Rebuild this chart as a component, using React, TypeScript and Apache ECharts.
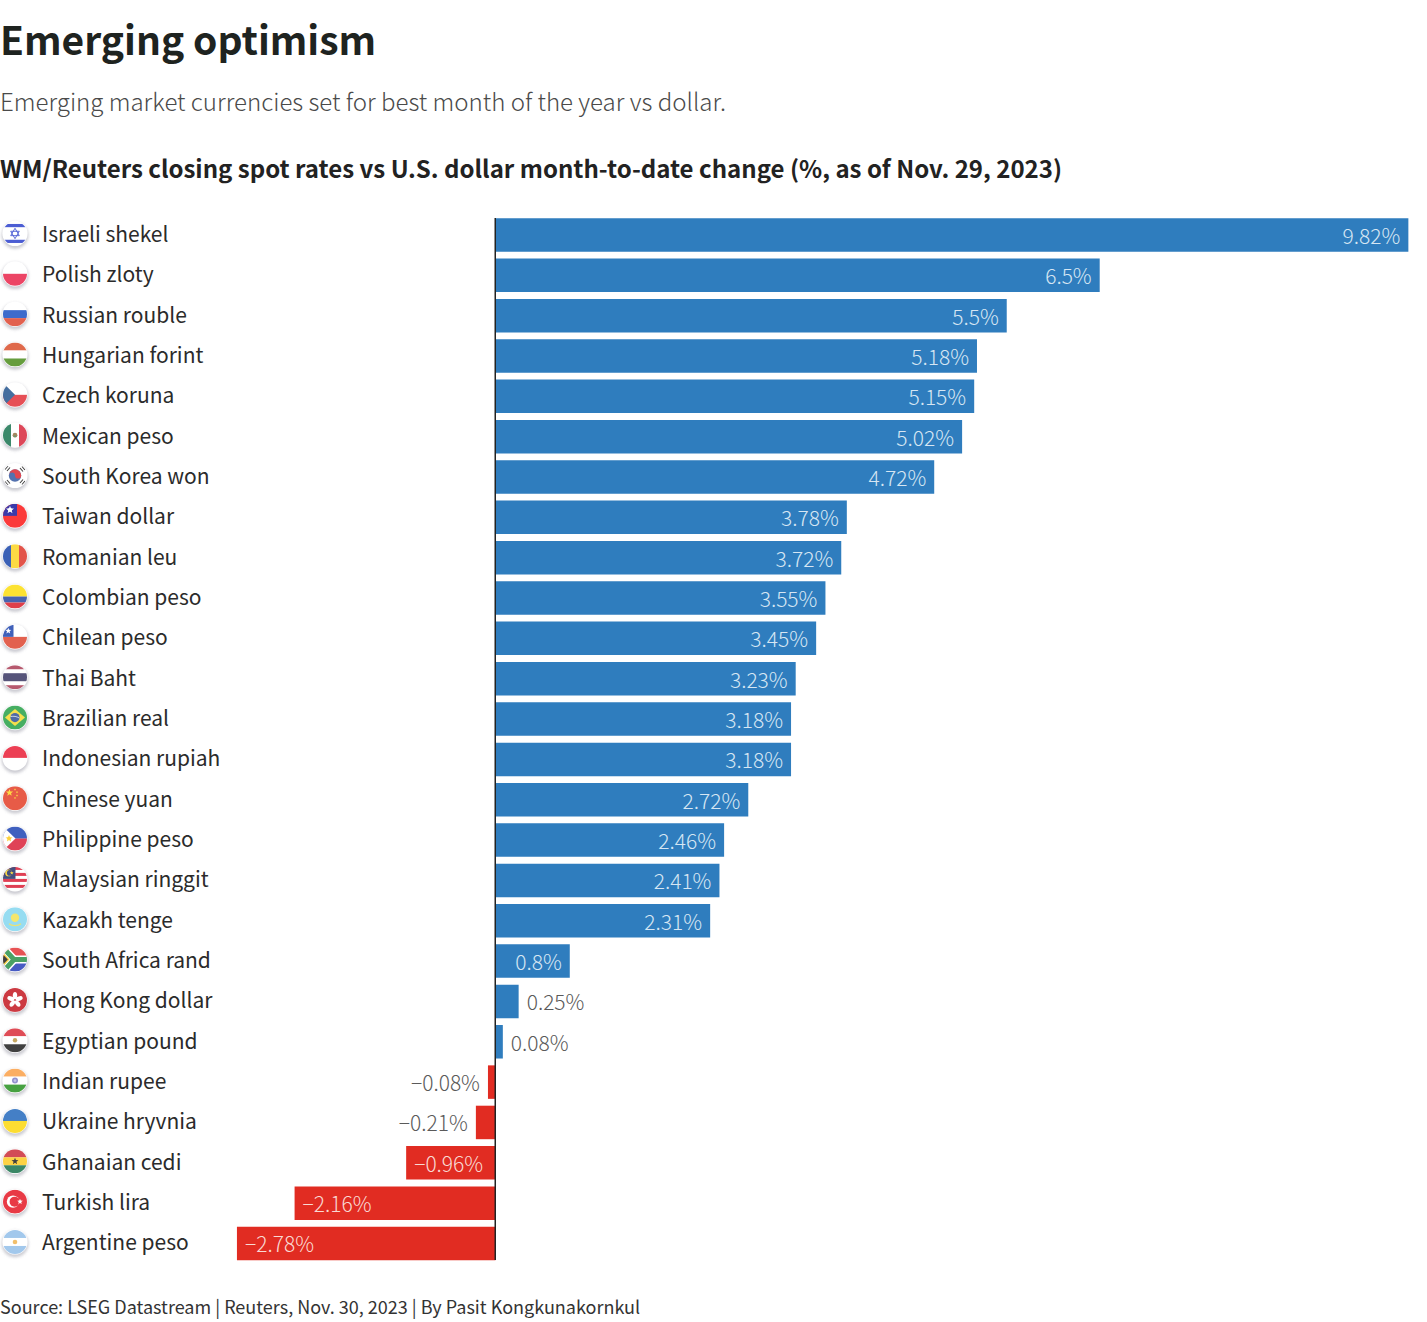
import React, { useEffect, useRef } from "react";
import * as echarts from "echarts";

const titleText = "Emerging optimism";
const subtitleText = "Emerging market currencies set for best month of the year vs dollar.";
const headingText = "WM/Reuters closing spot rates vs U.S. dollar month-to-date change (%, as of Nov. 29, 2023)";
const sourceText = "Source: LSEG Datastream | Reuters, Nov. 30, 2023 | By Pasit Kongkunakornkul";

const categories = [
  "Israeli shekel", "Polish zloty", "Russian rouble", "Hungarian forint", "Czech koruna", "Mexican peso",
  "South Korea won", "Taiwan dollar", "Romanian leu", "Colombian peso", "Chilean peso", "Thai Baht",
  "Brazilian real", "Indonesian rupiah", "Chinese yuan", "Philippine peso", "Malaysian ringgit", "Kazakh tenge",
  "South Africa rand", "Hong Kong dollar", "Egyptian pound", "Indian rupee", "Ukraine hryvnia", "Ghanaian cedi",
  "Turkish lira", "Argentine peso",
];
const values = [
  9.82, 6.5, 5.5, 5.18, 5.15, 5.02, 4.72, 3.78, 3.72, 3.55, 3.45, 3.23, 3.18, 3.18, 2.72, 2.46, 2.41, 2.31, 0.8,
  0.25, 0.08, -0.08, -0.21, -0.96, -2.16, -2.78,
];

const r = (x: number, y: number, w: number, h: number, f: string) =>
  `<rect x="${x}" y="${y}" width="${w}" height="${h}" fill="${f}"/>`;
const hStripes = (...c: string[]) => c.map((f, i) => r(0, (24 * i) / c.length, 24, 24 / c.length + 0.1, f)).join("");
const vStripes = (...c: string[]) => c.map((f, i) => r((24 * i) / c.length, 0, 24 / c.length + 0.1, 24, f)).join("");
const star = (cx: number, cy: number, s: number, f: string) => {
  const pts: string[] = [];
  for (let i = 0; i < 10; i++) {
    const a = -Math.PI / 2 + (i * Math.PI) / 5;
    const d = i % 2 ? s * 0.42 : s;
    pts.push(`${(cx + d * Math.cos(a)).toFixed(2)},${(cy + d * Math.sin(a)).toFixed(2)}`);
  }
  return `<polygon points="${pts.join(" ")}" fill="${f}"/>`;
};
const c = (x: number, y: number, rad: number, f: string) => `<circle cx="${x}" cy="${y}" r="${rad}" fill="${f}"/>`;

const flagArt: string[] = [
  // Israel
  r(0, 0, 24, 24, "#fff") + r(0, 2.5, 24, 3.2, "#1f35c9") + r(0, 18.3, 24, 3.2, "#1f35c9") +
    `<path d="M12 6.8l4.3 7.4H7.7zM12 17.2l-4.3-7.4h8.6z" fill="none" stroke="#1f35c9" stroke-width=".9"/>`,
  // Poland
  hStripes("#fff", "#e8173f"),
  // Russia
  hStripes("#fff", "#0d47c0", "#dc3a24"),
  // Hungary
  hStripes("#d8441f", "#fff", "#40850f"),
  // Czech
  hStripes("#fff", "#e0242c") + `<polygon points="0,0 12,12 0,24" fill="#174b88"/>`,
  // Mexico
  vStripes("#0b6b45", "#fff", "#d51a30") + c(12, 12, 2.4, "#8f6a3a") + c(12, 13, 1, "#3f8050"),
  // South Korea
  r(0, 0, 24, 24, "#fff") + c(12, 12, 6.2, "#2a4f9c") +
    `<path d="M5.8 12a6.2 6.2 0 0 1 12.4 0a3.1 3.1 0 0 1-6.2 0a3.1 3.1 0 0 0-6.2 0z" fill="#dc1a24"/>` +
    `<path d="M2 6l3-3.5M4 7.5l3-3.5M19 3l3 3.5M17 4.5l3 3.5M2 18l3 3.5M4 16.5l3 3.5M19 21l3-3.5M17 19.5l3-3.5" stroke="#111" stroke-width="1.1"/>`,
  // Taiwan
  r(0, 0, 24, 24, "#fb0a0a") + r(0, 0, 14, 12, "#0a0a96") + star(7, 6, 4.2, "#fff") + c(7, 6, 2, "#fff"),
  // Romania
  vStripes("#0b3aa5", "#fcd116", "#dc2a1e"),
  // Colombia
  r(0, 0, 24, 12, "#fcdc00") + r(0, 12, 24, 6, "#1a3d9c") + r(0, 18, 24, 6, "#d8101e"),
  // Chile
  hStripes("#fff", "#dc3a24") + r(0, 0, 10.5, 12, "#1039a8") + star(5.3, 6, 3.2, "#fff"),
  // Thailand
  r(0, 0, 24, 24, "#fff") + r(0, 0, 24, 4, "#a5304a") + r(0, 20, 24, 4, "#a5304a") + r(0, 8, 24, 8, "#2d2a5a"),
  // Brazil
  r(0, 0, 24, 24, "#199b3c") + `<polygon points="12,3.5 22,12 12,20.5 2,12" fill="#f5d820"/>` + c(12, 12, 4.6, "#24458f") +
    `<path d="M7.6 11c3-.6 6-.2 8.8 1.5" stroke="#fff" stroke-width=".7" fill="none"/>`,
  // Indonesia
  hStripes("#e8102a", "#fff"),
  // China
  r(0, 0, 24, 24, "#e2331a") + star(6.5, 6.5, 3.8, "#fcd116") + star(12, 3.2, 1.2, "#fcd116") + star(14, 6, 1.2, "#fcd116") +
    star(14, 9.2, 1.2, "#fcd116") + star(12, 11.8, 1.2, "#fcd116"),
  // Philippines
  hStripes("#1039b0", "#d8142c") + `<polygon points="0,0 12.5,12 0,24" fill="#fff"/>` + star(6, 12, 3.6, "#fcc60c") + c(6, 12, 1.7, "#fcc60c"),
  // Malaysia
  hStripes("#d8102a", "#fff", "#d8102a", "#fff", "#d8102a", "#fff", "#d8102a", "#fff") + r(0, 0, 12.5, 12, "#16245e") +
    c(5.6, 6, 3.4, "#fcd116") + c(6.8, 6, 2.9, "#16245e") + star(8.8, 6, 2, "#fcd116"),
  // Kazakhstan
  r(0, 0, 24, 24, "#7cd4ee") + c(12, 10.5, 4.2, "#f2e04a") +
    `<path d="M6 16.5c3 2.5 9 2.5 12 0" stroke="#e8dc50" stroke-width="1.3" fill="none"/>`,
  // South Africa
  r(0, 0, 24, 12, "#e2282a") + r(0, 12, 24, 12, "#1a33b5") +
    `<path d="M0 0L11 12L0 24" stroke="#fff" stroke-width="8" fill="none"/><path d="M11 12H24" stroke="#fff" stroke-width="8"/>` +
    `<path d="M0 0L11 12L0 24" stroke="#1d8a3e" stroke-width="5" fill="none"/><path d="M11 12H24" stroke="#1d8a3e" stroke-width="5"/>` +
    `<polygon points="0,5 6.5,12 0,19" fill="#fcc60c"/><polygon points="0,7 4.8,12 0,17" fill="#111"/>`,
  // Hong Kong
  r(0, 0, 24, 24, "#c00a14") + [0, 72, 144, 216, 288].map((a) =>
    `<ellipse cx="12" cy="7.6" rx="2.2" ry="3.6" fill="#fff" transform="rotate(${a} 12 12)"/>`).join(""),
  // Egypt
  hStripes("#d8202c", "#fff", "#111") + c(12, 12, 2.2, "#b8923c"),
  // India
  hStripes("#fb9a3c", "#fff", "#1a8a12") + c(12, 12, 3, "#7a78c4") + c(12, 12, 1.3, "#b8b6e2"),
  // Ukraine
  hStripes("#1660b8", "#fcd500"),
  // Ghana
  hStripes("#c8202c", "#fcc716", "#0a6a40") + star(12, 12, 3.6, "#111"),
  // Turkey
  r(0, 0, 24, 24, "#e30a17") + c(10, 12, 6.2, "#fff") + c(11.6, 12, 5, "#e30a17") + star(17, 12, 3, "#fff"),
  // Argentina
  hStripes("#8cbbe8", "#fff", "#8cbbe8") + c(12, 12, 2.3, "#eeb048"),
];

const flagUri = (art: string) => {
  const svg =
    `<svg xmlns="http://www.w3.org/2000/svg" width="36" height="36" viewBox="0 0 36 36">` +
    `<defs><filter id="s" x="-30%" y="-30%" width="160%" height="160%"><feGaussianBlur stdDeviation="1.5"/></filter>` +
    `<clipPath id="k"><circle cx="12" cy="12" r="12"/></clipPath></defs>` +
    `<circle cx="18" cy="18.4" r="13.4" fill="#a9a9b4" opacity=".75" filter="url(#s)"/>` +
    `<g transform="translate(6 4.5)"><circle cx="12" cy="12" r="12.6" fill="#fff"/><g clip-path="url(#k)">${art}</g></g></svg>`;
  return "image://data:image/svg+xml;charset=utf-8," + encodeURIComponent(svg);
};

const FONT = '"Noto Sans CJK SC", "Noto Sans", sans-serif';
const BLUE = "#2f7dbe";
const RED = "#e12c22";
const UNIT = 92.97;
const ZERO_X = 495.4;
const TOP = 214.8;
const PITCH = 40.34;

export default function App() {
  const ref = useRef<HTMLDivElement>(null);
  useEffect(() => {
    const chart = echarts.init(ref.current!, undefined, { renderer: "svg" });
    const chartHeight = PITCH * categories.length;
    chart.setOption({
      animation: false,
      backgroundColor: "#fff",
      textStyle: { fontFamily: FONT },
      title: [
        { text: titleText, left: 0, top: 18, padding: 0, textStyle: { fontFamily: FONT, fontSize: 39, fontWeight: 700, color: "#1e2320" } },
        { text: subtitleText, left: 0, top: 88, padding: 0, textStyle: { fontFamily: FONT, fontSize: 24.06, fontWeight: 300, color: "#4a4a4a" } },
        { text: headingText, left: 0, top: 155, padding: 0, textStyle: { fontFamily: FONT, fontSize: 24.02, fontWeight: 700, color: "#222" } },
        { text: sourceText, left: 0, top: 1297, padding: 0, textStyle: { fontFamily: FONT, fontSize: 18.03, fontWeight: 400, color: "#333" } },
      ],
      grid: [
        { left: ZERO_X - 3 * UNIT, top: TOP, width: 13 * UNIT, height: chartHeight },
        { left: 0, top: TOP, width: 30, height: chartHeight },
        { left: 42, top: TOP - 2, width: 100, height: chartHeight },
      ],
      xAxis: [
        { type: "value", gridIndex: 0, min: -3, max: 10, show: false },
        { type: "value", gridIndex: 1, min: 0, max: 1, show: false },
        { type: "value", gridIndex: 2, min: 0, max: 1, show: false },
      ],
      yAxis: [
        { type: "category", gridIndex: 0, inverse: true, data: categories, show: false },
        { type: "category", gridIndex: 1, inverse: true, data: categories, show: false },
        {
          type: "category", gridIndex: 2, inverse: true, data: categories,
          axisLine: { show: false }, axisTick: { show: false }, splitLine: { show: false },
          axisLabel: { align: "left", margin: 0, fontFamily: FONT, fontSize: 21, color: "#2b2b2b" },
        },
      ],
      series: [
        {
          type: "bar", xAxisIndex: 0, yAxisIndex: 0, barWidth: 33.5, silent: true,
          data: values.map((v) => {
            const inside = Math.abs(v) > 0.5;
            return {
              value: v,
              itemStyle: { color: v >= 0 ? BLUE : RED },
              label: {
                position: inside ? (v >= 0 ? "insideRight" : "insideLeft") : v >= 0 ? "right" : "left",
                color: inside ? (v >= 0 ? "#d6e6f3" : "#f9d9d3") : "#5a5a5a",
              },
            };
          }),
          label: {
            show: true, distance: 8, fontFamily: FONT, fontSize: 21, fontWeight: 300,
            formatter: (p: any) => `${p.value}%`.replace("-", "\u2212"),
          },
        },
        {
          type: "scatter", xAxisIndex: 1, yAxisIndex: 1, silent: true, clip: false,
          data: categories.map((name, i) => ({ value: [0.5, name], symbol: flagUri(flagArt[i]) })),
          symbolSize: 36,
        },
      ],
    });
    const x = Math.floor(chart.convertToPixel({ xAxisIndex: 0 }, 0)) + 0.25;
    chart.setOption({
      graphic: [{ type: "line", z: 50, shape: { x1: x, y1: 218, x2: x, y2: 1260 }, style: { stroke: "#222", lineWidth: 1.5 }, silent: true }],
    });
    return () => chart.dispose();
  }, []);
  return <div ref={ref} style={{ position: "absolute", left: 0, top: 0, width: 1427, height: 1322 }} />;
}
